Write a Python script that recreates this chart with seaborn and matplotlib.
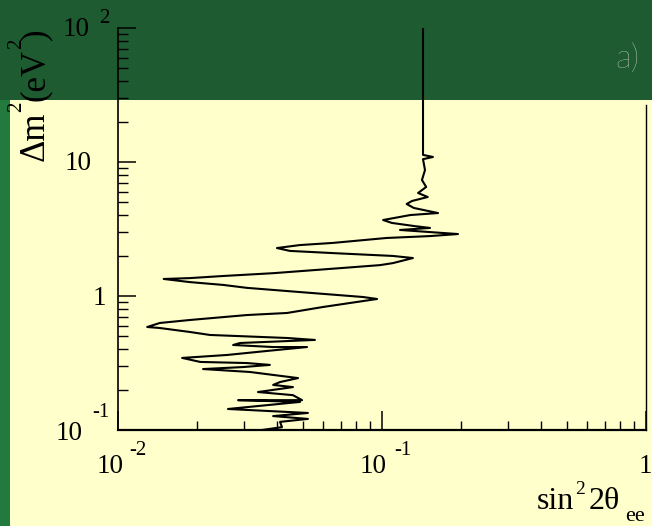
import numpy as np
import pandas as pd
import matplotlib
matplotlib.use("Agg")
import matplotlib.pyplot as plt
import seaborn as sns
from matplotlib.patches import Rectangle
from matplotlib.ticker import LogLocator, NullFormatter

# Exclusion contour traced from high to low delta-m^2
dm2 = [100, 11.3, 10.9, 10.5, 8.71, 7.34, 6.51, 5.87, 5.48, 5.12, 4.86, 4.54,
       4.16, 4.02, 3.69, 3.51, 3.33, 3.22, 3.11, 2.90, 2.80, 2.71, 2.49, 2.40,
       2.28, 2.17, 2.09, 1.99, 1.92, 1.76, 1.70, 1.62, 1.48, 1.41, 1.36, 1.34,
       1.27, 1.21, 1.15, 1.07, 0.983, 0.950, 0.887, 0.828, 0.747, 0.721, 0.662,
       0.629, 0.587, 0.577, 0.539, 0.512, 0.486, 0.470, 0.446, 0.431, 0.416,
       0.416, 0.389, 0.363, 0.345, 0.322, 0.316, 0.306, 0.295, 0.285, 0.271,
       0.244, 0.228, 0.217, 0.209, 0.192, 0.182, 0.167, 0.167, 0.162, 0.1435,
       0.134, 0.127, 0.121, 0.115, 0.105, 0.100]
sin2 = [0.143, 0.143, 0.156, 0.143, 0.1455, 0.1417, 0.147, 0.137, 0.149, 0.130,
        0.124, 0.132, 0.163, 0.128, 0.101, 0.109, 0.132, 0.152, 0.117, 0.194,
        0.152, 0.104, 0.0652, 0.0489, 0.0400, 0.0448, 0.0652, 0.110, 0.131,
        0.110, 0.0983, 0.0712, 0.0387, 0.0250, 0.0187, 0.0149, 0.0187, 0.0250,
        0.0308, 0.0489, 0.0847, 0.0958, 0.0757, 0.0598, 0.0437, 0.0308, 0.0187,
        0.0144, 0.0129, 0.0144, 0.0187, 0.0223, 0.0437, 0.0557, 0.0290, 0.0273,
        0.0387, 0.0520, 0.0367, 0.0259, 0.0175, 0.0205, 0.0308, 0.0376, 0.0298,
        0.0210, 0.0316, 0.0481, 0.0411, 0.0387, 0.0460, 0.0339, 0.0460, 0.0498,
        0.0285, 0.0489, 0.0261, 0.0524, 0.0387, 0.0524, 0.0411, 0.0418, 0.0351]

# tick labels: (value, mantissa, exponent)
y_tick_labels = [(100, "10", "2"), (10, "10", ""), (1, "1", ""), (0.1, "10", "-1")]
x_tick_labels = [(0.01, "10", "-2"), (0.1, "10", "-1"), (1, "1", "")]

YELLOW = "#ffffcc"
GREEN_TOP = "#1e5b30"
GREEN_SIDE = "#237a3f"

sns.set_theme(style="white")
plt.rcParams["font.family"] = ["Liberation Serif", "DejaVu Serif"]

W, H, DPI = 652, 526, 100
PT = 72.0 / DPI  # points per pixel

fig = plt.figure(figsize=(W / DPI, H / DPI), dpi=DPI, facecolor=YELLOW)
fig.patches.append(Rectangle((0, 1 - 100 / H), 1, 100 / H, transform=fig.transFigure,
                             facecolor=GREEN_TOP, edgecolor="none", zorder=-10))
fig.patches.append(Rectangle((0, 0), 10 / W, 1 - 100 / H, transform=fig.transFigure,
                             facecolor=GREEN_SIDE, edgecolor="none", zorder=-10))

ax = fig.add_axes([118 / W, (H - 430) / H, (646 - 118) / W, (430 - 28) / H])
ax.set_facecolor("none")

df = pd.DataFrame({"sin2": sin2, "dm2": dm2})
sns.lineplot(data=df, x="sin2", y="dm2", sort=False, estimator=None,
             color="black", linewidth=1.5, ax=ax)

ax.set_xscale("log")
ax.set_yscale("log")
ax.set_xlim(0.01, 1)
ax.set_ylim(0.1, 100)
ax.set_xlabel("")
ax.set_ylabel("")

for axis in (ax.xaxis, ax.yaxis):
    axis.set_major_locator(LogLocator(base=10, numticks=10))
    axis.set_minor_locator(LogLocator(base=10, subs=np.arange(2, 10), numticks=40))
    axis.set_major_formatter(NullFormatter())
    axis.set_minor_formatter(NullFormatter())

ax.tick_params(axis="y", which="major", direction="in", length=13, width=1.1,
               left=True, right=False, color="black")
ax.tick_params(axis="y", which="minor", direction="in", length=7, width=1.0,
               left=True, right=False, color="black")
ax.tick_params(axis="x", which="major", direction="in", length=13.7, width=1.1,
               bottom=True, top=False, color="black")
ax.tick_params(axis="x", which="minor", direction="in", length=6.5, width=1.0,
               bottom=True, top=False, color="black")

ax.spines["top"].set_visible(False)
for side in ("left", "bottom", "right"):
    ax.spines[side].set_color("black")
ax.spines["left"].set_linewidth(1.2)
ax.spines["bottom"].set_linewidth(1.6)
ax.spines["right"].set_linewidth(1.0)
ax.spines["right"].set_bounds(0.1, 26.6)


def put(text, xy, coords, dx, dy, size, ha="left"):
    ax.annotate(text, xy=xy, xycoords=coords, xytext=(dx * PT, dy * PT),
                textcoords="offset points", fontsize=size, ha=ha, va="baseline",
                color="black", annotation_clip=False)


MAIN, SUP = 19.5, 15
# y tick labels: (dx of mantissa right edge, dy of baseline, exponent dx, exponent dy)
y_offsets = {100: (-28, -8, -19, 5), 10: (-26, -8, 0, 0), 1: (-12, -9, 0, 0),
             0.1: (-35, -10, -26, 13)}
for val, mant, expo in y_tick_labels:
    mdx, mdy, edx, edy = y_offsets[val]
    put(mant, (0, val), ("axes fraction", "data"), mdx, mdy, MAIN, ha="right")
    if expo:
        put(expo, (0, val), ("axes fraction", "data"), edx, edy, SUP)

x_offsets = {0.01: (-21, -43, 11, -25), 0.1: (-22, -43, 12, -25), 1: (-7, -43, 0, 0)}
for val, mant, expo in x_tick_labels:
    mdx, mdy, edx, edy = x_offsets[val]
    put(mant, (val, 0), ("data", "axes fraction"), mdx, mdy, MAIN)
    if expo:
        put(expo, (val, 0), ("data", "axes fraction"), edx, edy, SUP)


def ftext(x, y, s, size, **kw):
    fig.text(x / W, 1 - y / H, s, fontsize=size, color="black", **kw)


# x-axis title: sin^2 2theta_ee
ftext(537, 509, "sin", 23, ha="left", va="baseline")
ftext(575, 494, "2", 14, ha="left", va="baseline")
ftext(589, 509, "2θ", 23, ha="left", va="baseline")
ftext(625, 521, "ee", 16, ha="left", va="baseline")

# y-axis title: Delta m^2 (eV^2), reading upward
rot = dict(rotation=90, rotation_mode="anchor", ha="left", va="baseline")
ftext(44, 161, "Δm", 25, **rot)
ftext(21, 112, "2", 15, **rot)
ftext(44, 101, "(eV", 25, **rot)
ftext(21, 49, "2", 15, **rot)
ftext(44, 40, ")", 25, **rot)

# panel tag
fig.text(639 / W, 1 - 68 / H, "a)", fontsize=24, family="Lato", fontweight="light",
         ha="right", va="baseline", color="#e6e6e6")

fig.savefig("out.png", dpi=DPI, facecolor=YELLOW)
